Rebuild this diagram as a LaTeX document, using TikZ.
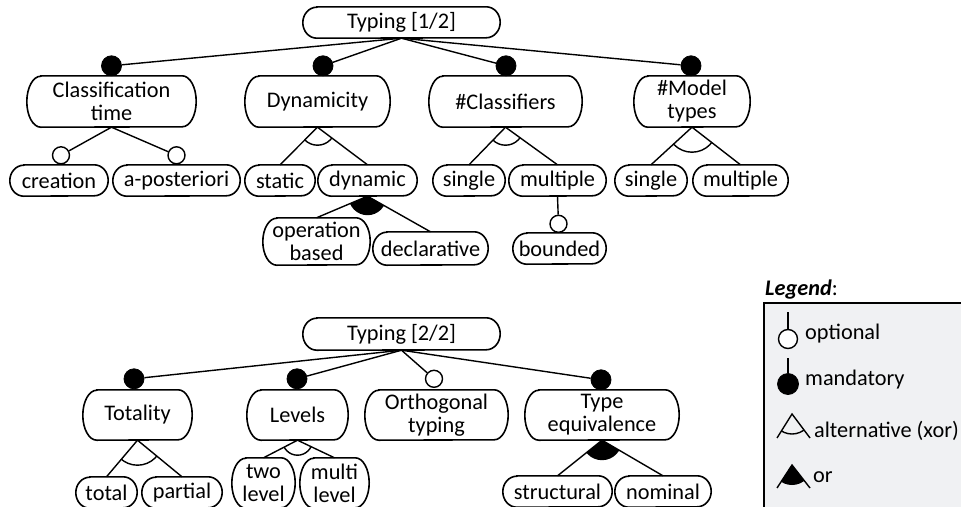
\documentclass[tikz,border=0pt]{standalone}
\usepackage{fontspec}
\setmainfont{Carlito}
\usetikzlibrary{calc}
\definecolor{legendbg}{HTML}{F0F1F3}

\tikzset{
  featlabel/.style={inner sep=0pt, align=center, font=\fontsize{22.3}{23}\selectfont},
  legendtext/.style={inner sep=0pt, anchor=base west, font=\fontsize{22.3}{23}\selectfont},
  outline/.style={line width=1.6pt},
  conn/.style={line width=1.4pt},
  mandc/.style={circle, fill=black, draw=black, line width=0.8pt, minimum size=20pt, inner sep=0pt},
  optc/.style={circle, fill=white, draw=black, line width=1.4pt, minimum size=17pt, inner sep=0pt},
}

% feature box: name, centre x, centre y, width, height, text
\newcommand\featnode[6]{%
  \node[featlabel, minimum width=#4pt, minimum height=#5pt] (#1) at (#2,#3) {#6};
  \draw[outline] ($(#1.north west)+(14,0)$) -- ($(#1.north east)+(-14,0)$)
     arc[start angle=90, end angle=-90, x radius=14pt, y radius=#5pt/2]
     -- ($(#1.south west)+(14,0)$)
     arc[start angle=270, end angle=90, x radius=14pt, y radius=#5pt/2] -- cycle;
}
% alternative group arc: apex, left end, right end, radius
\newcommand\xorarc[4]{%
  \begin{scope}
    \clip (#1) -- ($(#1)!4!(#2)$) -- ($(#1)!4!(#3)$) -- cycle;
    \draw[conn] (#1) circle[radius=#4pt];
  \end{scope}}
% or group sector: apex, left end, right end, radius
\newcommand\orarc[4]{%
  \begin{scope}
    \clip (#1) -- ($(#1)!4!(#2)$) -- ($(#1)!4!(#3)$) -- cycle;
    \fill (#1) circle[radius=#4pt];
  \end{scope}}

\begin{document}
\begin{tikzpicture}[x=1pt,y=1pt]
\useasboundingbox (0,0) rectangle (961,-506);
\clip (0,0) rectangle (961,-506);

% ---------- Typing [1/2] ----------
\featnode{r1}{401.5}{-22.5}{197}{31}{Typing [1/2]}
\featnode{ct}{111.5}{-101.5}{169}{51}{Classification\\time}
\featnode{dyn}{317.5}{-101.5}{145}{51}{Dynamicity}
\featnode{cls}{505.5}{-101.5}{153}{51}{\#Classifiers}
\featnode{mt}{692}{-101.5}{116}{51}{\#Model\\types}

\featnode{creation}{59}{-180.5}{98}{31}{creation}
\featnode{apost}{176.5}{-180.5}{127}{31}{a-posteriori}
\featnode{static}{280}{-180.5}{70}{31}{static}
\featnode{dynamic}{367.5}{-180.5}{99}{31}{dynamic}
\featnode{singleA}{469}{-180.5}{72}{31}{single}
\featnode{multipleA}{557.5}{-180.5}{97}{31}{multiple}
\featnode{singleB}{651}{-180.5}{72}{31}{single}
\featnode{multipleB}{740.5}{-180.5}{95}{31}{multiple}

\featnode{opbased}{316.5}{-241.5}{107}{47}{operation\\based}
\featnode{declar}{430.5}{-248.5}{115}{33}{declarative}
\featnode{bounded}{559.5}{-248.5}{93}{31}{bounded}

\node[mandc] (ctm) at ($(ct.north)+(0,10)$) {};
\node[mandc] (dynm) at ($(dyn.north)+(5.5,10)$) {};
\node[mandc] (clsm) at ($(cls.north)+(0.5,10)$) {};
\node[mandc] (mtm) at ($(mt.north)+(-1,10)$) {};
\foreach \c in {ctm,dynm,clsm,mtm} \draw[conn] (r1.south) -- (\c);

\node[optc] (creo) at ($(creation.north)+(2,9.5)$) {};
\node[optc] (aposto) at ($(apost.north)+(0,9.5)$) {};
\draw[conn] (ct.south) -- (creo);
\draw[conn] (ct.south) -- (aposto);

\draw[conn] (dyn.south) -- (static.north);
\draw[conn] (dyn.south) -- (dynamic.north);
\xorarc{dyn.south}{static.north}{dynamic.north}{18}

\draw[conn] (cls.south) -- (singleA.north);
\draw[conn] (cls.south) -- (multipleA.north);
\xorarc{cls.south}{singleA.north}{multipleA.north}{18}

\draw[conn] (mt.south) -- (singleB.north);
\draw[conn] (mt.south) -- (multipleB.north);
\xorarc{mt.south}{singleB.north}{multipleB.north}{25}

\draw[conn] (dynamic.south) -- (opbased.north);
\draw[conn] (dynamic.south) -- (declar.north);
\orarc{dynamic.south}{opbased.north}{declar.north}{19}

\node[optc] (boundo) at ($(bounded.north)+(-1,9)$) {};
\draw[conn] (multipleA.south) -- (boundo);

% ---------- Typing [2/2] ----------
\featnode{r2}{401.5}{-334}{197}{32}{Typing [2/2]}
\featnode{tot}{137.5}{-415}{109}{50}{Totality}
\featnode{lev}{297.5}{-415}{101}{50}{Levels}
\featnode{orth}{436.5}{-415}{143}{50}{Orthogonal\\typing}
\featnode{teq}{602}{-415}{154}{50}{Type\\equivalence}

\featnode{total}{106.5}{-492.5}{61}{31}{total}
\featnode{partial}{182}{-492.5}{80}{31}{partial}
\featnode{two}{263.5}{-483}{63}{50}{two\\level}
\featnode{multi}{334.5}{-483}{69}{50}{multi\\level}
\featnode{struct}{557.5}{-491.5}{109}{31}{structural}
\featnode{nominal}{663}{-491.5}{96}{31}{nominal}

\node[mandc] (totm) at ($(tot.north)+(-3.5,11)$) {};
\node[mandc] (levm) at ($(lev.north)+(-0.5,11)$) {};
\node[optc] (ortho) at ($(orth.north)+(-2.5,11)$) {};
\node[mandc] (teqm) at ($(teq.north)+(-1,10)$) {};
\foreach \c in {totm,levm,ortho,teqm} \draw[conn] (r2.south) -- (\c);

\draw[conn] (tot.south) -- (total.north);
\draw[conn] (tot.south) -- (partial.north);
\xorarc{tot.south}{total.north}{partial.north}{25}

\draw[conn] (lev.south) -- (two.north);
\draw[conn] (lev.south) -- (multi.north);
\xorarc{lev.south}{two.north}{multi.north}{15}

\draw[conn] (teq.south) -- (struct.north);
\draw[conn] (teq.south) -- (nominal.north);
\orarc{teq.south}{struct.north}{nominal.north}{20}

% ---------- Legend ----------
\node[legendtext] (legtitle) at (765,-295) {\textbf{\textit{Legend}}:};
\filldraw[fill=legendbg, draw=black, line width=2pt] (764,-303) rectangle (990,-530);

\coordinate (optTop) at (788,-312);
\node[optc, minimum size=19pt] (optSym) at (788,-339) {};
\draw[conn] (optTop) -- (optSym);
\node[legendtext] (optTxt) at (805,-339) {optional};

\coordinate (manTop) at (788,-358);
\node[mandc, minimum size=21pt] (manSym) at (788,-384) {};
\draw[conn] (manTop) -- (manSym);
\node[legendtext] (manTxt) at (805,-385) {mandatory};

\coordinate (xorApex) at (792,-414);
\coordinate (xorL) at (777,-438);
\coordinate (xorR) at (810,-438);
\draw[conn] (xorL) -- (xorApex) -- (xorR);
\xorarc{xorApex}{xorL}{xorR}{20}
\node[legendtext] (xorTxt) at (814,-437) {alternative (xor)};

\coordinate (orApex) at (792,-465);
\coordinate (orL) at (777,-488);
\coordinate (orR) at (810,-488);
\draw[conn] (orL) -- (orApex) -- (orR);
\orarc{orApex}{orL}{orR}{20}
\node[legendtext] (orTxt) at (813,-482) {or};
\end{tikzpicture}
\end{document}
